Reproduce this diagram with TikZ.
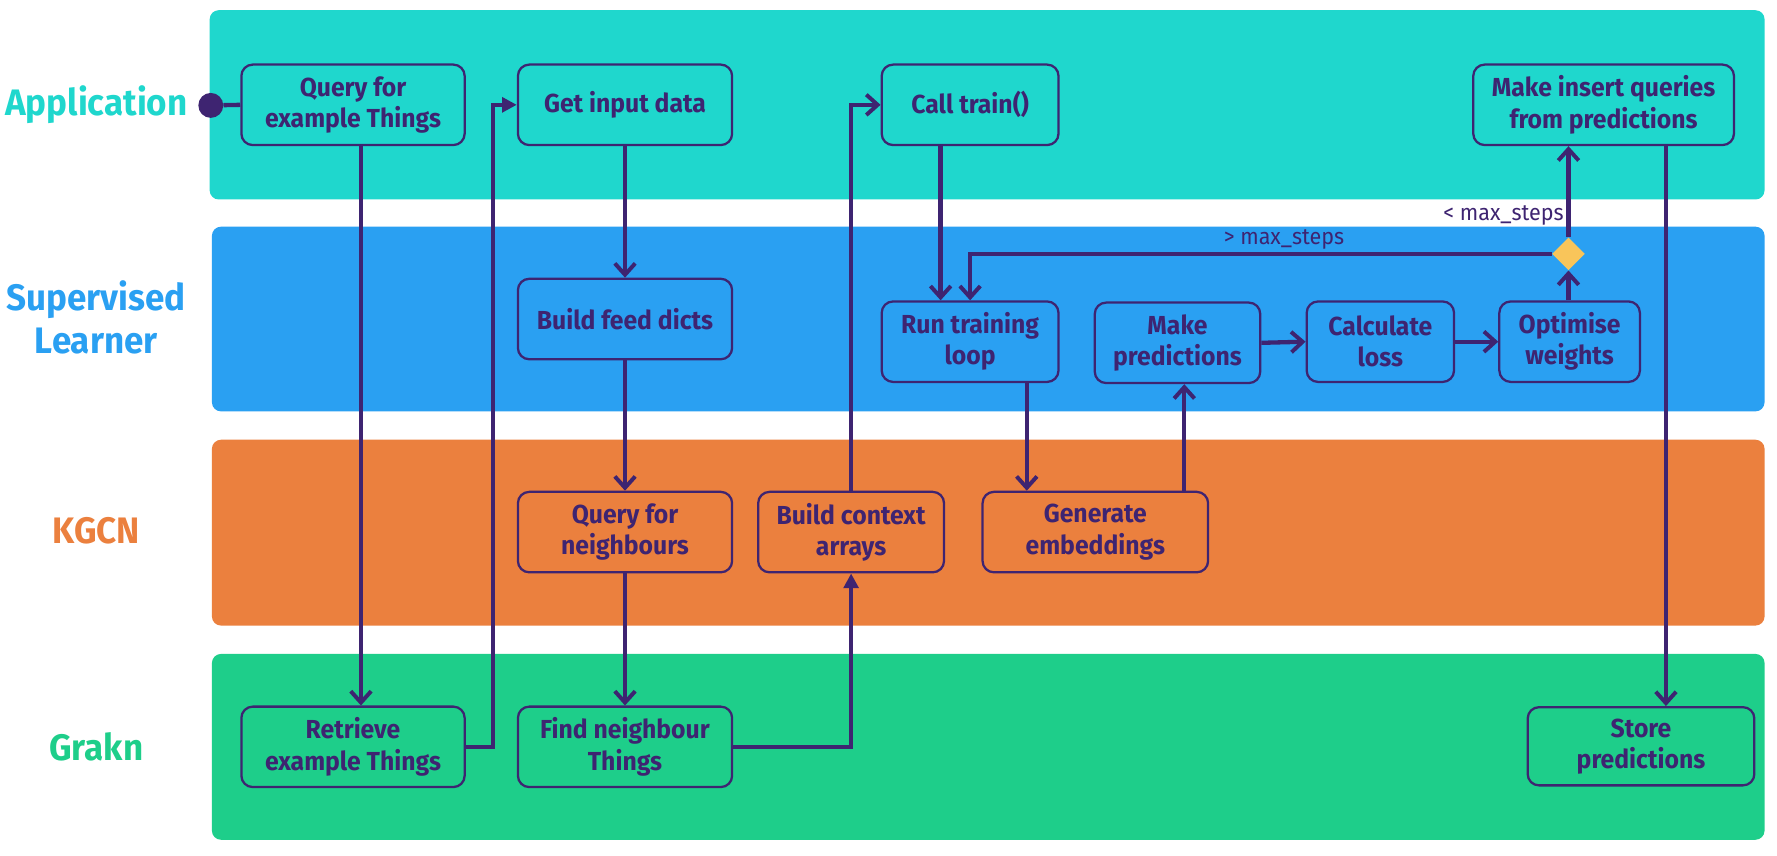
\documentclass[tikz,border=0pt]{standalone}
\usepackage{fontspec}
\setmainfont{Fira Sans}[FakeStretch=0.95]
\usetikzlibrary{arrows.meta,shapes.geometric}
\definecolor{pur}{HTML}{3E2471}
\definecolor{appc}{HTML}{1FD7CD}
\definecolor{supc}{HTML}{2AA0F2}
\definecolor{kgcnc}{HTML}{EB803E}
\definecolor{graknc}{HTML}{1ECE8A}
\definecolor{diac}{HTML}{F9C55A}
\tikzset{
  lane/.style={rounded corners=8pt},
  lanelabel/.style={font=\bfseries\fontsize{32.5}{38}\selectfont, align=center},
  box/.style={draw=pur, line width=2pt, rounded corners=10pt, minimum height=71pt,
    align=center, text=pur, inner sep=2pt, font=\bfseries\fontsize{23}{27.5}\selectfont},
  conn/.style={draw=pur, line width=3.8pt},
  opentip/.style={-{Straight Barb[length=10pt,width=18pt,line width=3.5pt]}},
  filltip/.style={-{Triangle[length=13pt,width=13pt]}},
  cond/.style={text=pur, font=\fontsize{20}{24}\selectfont, inner sep=1pt}
}
\begin{document}
\begin{tikzpicture}[x=1pt,y=-1pt]
\useasboundingbox (0,0) rectangle (1568,755);
% lanes
\fill[lane, appc] (185,9) rectangle (1557,176);
\fill[lane, supc] (187,200) rectangle (1557,363);
\fill[lane, kgcnc] (187,388) rectangle (1557,552);
\fill[lane, graknc] (187,577) rectangle (1557,741);
% lane labels
\node[lanelabel, text=appc] (lapp) at (85,92) {Application};
\node[lanelabel, text=supc] (lsup) at (85,280) {Supervised\\Learner};
\node[lanelabel, text=kgcnc] (lkgcn) at (85,468) {KGCN};
\node[lanelabel, text=graknc] (lgrakn) at (85,659) {Grakn};
% nodes
\node[box, minimum width=197pt] (q1) at (311.5,92.5) {Query for\\example Things};
\node[box, minimum width=189pt] (getinput) at (551.5,92.5) {Get input data};
\node[box, minimum width=156pt] (calltrain) at (856,92.5) {Call train()};
\node[box, minimum width=230pt] (insert) at (1415,92.5) {Make insert queries\\from predictions};
\node[box, minimum width=189pt] (feed) at (551.5,281.5) {Build feed dicts};
\node[box, minimum width=156pt] (runloop) at (856,301.5) {Run training\\loop};
\node[box, minimum width=146pt] (makepred) at (1039,302.5) {Make\\predictions};
\node[box, minimum width=130pt] (calcloss) at (1218,301.5) {Calculate\\loss};
\node[box, minimum width=124pt] (optim) at (1385,301.5) {Optimise\\weights};
\node[box, minimum width=189pt] (qneigh) at (551.5,469.5) {Query for\\neighbours};
\node[box, minimum width=164pt] (bctx) at (751,469.5) {Build context\\arrays};
\node[box, minimum width=199pt] (genemb) at (966.5,469.5) {Generate\\embeddings};
\node[box, minimum width=197pt] (retrieve) at (311.5,659) {Retrieve\\example Things};
\node[box, minimum width=189pt] (findn) at (551.5,659) {Find neighbour\\Things};
\node[box, minimum width=200pt, minimum height=69pt] (store) at (1448,658.5) {Store\\predictions};
% start dot and decision diamond
\node[circle, fill=pur, minimum size=22pt, inner sep=0pt] (start) at (186,93) {};
\node[diamond, fill=diac, minimum size=29pt, inner sep=0pt] (dia) at (1384,224) {};
% connectors
\draw[conn] (start) -- (q1.west);
\draw[conn, opentip] ([xshift=7pt]q1.south) -- ([xshift=7pt]retrieve.north);
\draw[conn, filltip] (retrieve.east) -- ++(24,0) |- (getinput.west);
\draw[conn, opentip] (getinput.south) -- (feed.north);
\draw[conn, opentip] (feed.south) -- (qneigh.north);
\draw[conn, opentip] (qneigh.south) -- (findn.north);
\draw[conn, filltip] (findn.east) -| (bctx.south);
\draw[conn, opentip] (bctx.north) |- (calltrain.west);
\draw[conn, opentip] ([xshift=-26pt]calltrain.south) -- ([xshift=-26pt]runloop.north);
\draw[conn, opentip] ([xshift=50pt]runloop.south) -- ([xshift=50pt]runloop.south |- genemb.north);
\draw[conn, opentip] ([xshift=78.5pt]genemb.north) -- ([xshift=78.5pt]genemb.north |- makepred.south);
\draw[conn, opentip] (makepred.east) -- (calcloss.west);
\draw[conn, opentip] (calcloss.east) -- (optim.west);
\draw[conn, opentip] (optim.north -| dia.south) -- (dia.south);
\draw[conn, opentip] (dia.west) -| (runloop.north);
\draw[conn, opentip] (dia.north) -- (dia.north |- insert.south);
\draw[conn, opentip] ([xshift=55pt]insert.south) -- ([xshift=55pt]insert.south |- store.north);
% condition labels
\node[cond, anchor=south] (gt) at (1133,221) {> max\_steps};
\node[cond, anchor=east] (lt) at (1381,190) {< max\_steps};
\end{tikzpicture}
\end{document}
